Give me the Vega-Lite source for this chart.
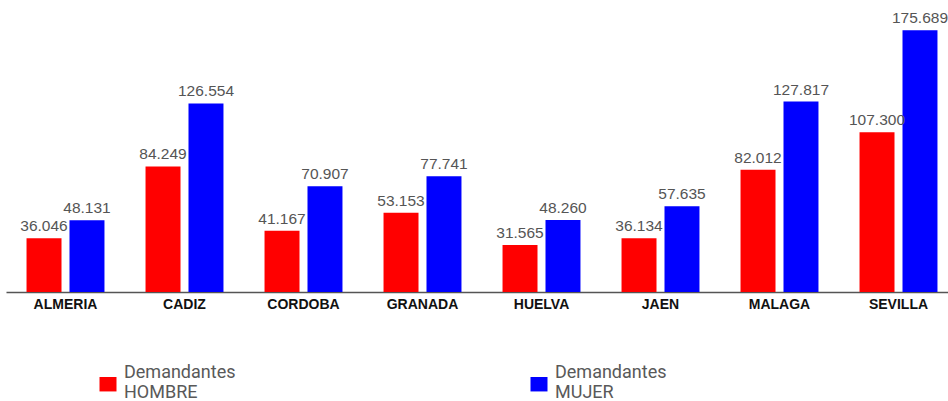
{
  "$schema": "https://vega.github.io/schema/vega-lite/v6.json",
  "autosize": "none",
  "width": 940,
  "height": 292,
  "padding": {"left": 8, "top": 0, "right": 0, "bottom": 109},
  "config": {
    "view": {"stroke": null},
    "locale": {"number": {"decimal": ",", "thousands": ".", "grouping": [3], "currency": ["", " €"]}},
    "font": "Liberation Sans"
  },
  "data": {
    "values": [
      {"provincia": "ALMERIA", "sexo": "HOMBRE", "valor": 36046},
      {"provincia": "ALMERIA", "sexo": "MUJER", "valor": 48131},
      {"provincia": "CADIZ", "sexo": "HOMBRE", "valor": 84249},
      {"provincia": "CADIZ", "sexo": "MUJER", "valor": 126554},
      {"provincia": "CORDOBA", "sexo": "HOMBRE", "valor": 41167},
      {"provincia": "CORDOBA", "sexo": "MUJER", "valor": 70907},
      {"provincia": "GRANADA", "sexo": "HOMBRE", "valor": 53153},
      {"provincia": "GRANADA", "sexo": "MUJER", "valor": 77741},
      {"provincia": "HUELVA", "sexo": "HOMBRE", "valor": 31565},
      {"provincia": "HUELVA", "sexo": "MUJER", "valor": 48260},
      {"provincia": "JAEN", "sexo": "HOMBRE", "valor": 36134},
      {"provincia": "JAEN", "sexo": "MUJER", "valor": 57635},
      {"provincia": "MALAGA", "sexo": "HOMBRE", "valor": 82012},
      {"provincia": "MALAGA", "sexo": "MUJER", "valor": 127817},
      {"provincia": "SEVILLA", "sexo": "HOMBRE", "valor": 107300},
      {"provincia": "SEVILLA", "sexo": "MUJER", "valor": 175689}
    ]
  },
  "encoding": {
    "x": {
      "field": "provincia",
      "type": "nominal",
      "sort": null,
      "scale": {"range": [-2, 950], "paddingInner": 0.345, "paddingOuter": 0.1725},
      "axis": {
        "title": null,
        "labelAngle": 0,
        "ticks": false,
        "labelPadding": 5,
        "labelFont": "Liberation Sans",
        "labelFontWeight": "bold",
        "labelFontSize": 14,
        "labelColor": "#111111",
        "domainColor": "#555555",
        "domainWidth": 1.5
      }
    },
    "xOffset": {
      "field": "sexo",
      "type": "nominal",
      "scale": {"paddingInner": 0.186, "paddingOuter": 0}
    },
    "y": {
      "field": "valor",
      "type": "quantitative",
      "scale": {"domain": [0, 196000], "nice": false, "zero": true},
      "axis": null
    }
  },
  "layer": [
    {
      "mark": {"type": "bar"},
      "encoding": {
        "color": {
          "field": "sexo",
          "type": "nominal",
          "scale": {"domain": ["HOMBRE", "MUJER"], "range": ["#ff0000", "#0000ff"]},
          "legend": {
            "title": null,
            "orient": "none",
            "legendX": 91,
            "legendY": 364,
            "direction": "horizontal",
            "columns": 2,
            "columnPadding": 294,
            "symbolType": "M-1,0.47L1,0.47L1,2.17L-1,2.17Z",
            "symbolSize": 289,
            "symbolStrokeWidth": 0,
            "symbolOffset": 0,
            "labelOffset": 7,
            "labelFont": "Roboto",
            "labelFontSize": 18,
            "labelColor": "#595959",
            "labelLimit": 300,
            "labelExpr": "['Demandantes', datum.label]"
          }
        }
      }
    },
    {
      "mark": {"type": "text", "baseline": "bottom", "dy": -4, "fontSize": 15.5, "color": "#555555", "font": "Liberation Sans"},
      "encoding": {
        "text": {"field": "valor", "type": "quantitative", "format": ","}
      }
    }
  ]
}
